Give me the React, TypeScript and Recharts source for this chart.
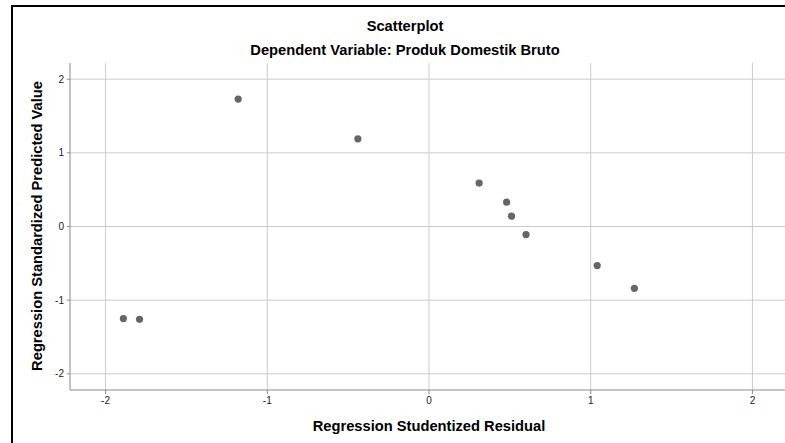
import { ScatterChart, Scatter, XAxis, YAxis, ReferenceLine } from 'recharts';

// Studentized residual (x) vs standardized predicted value (y)
const residuals = [-1.89, -1.79, -1.18, -0.44, 0.31, 0.48, 0.51, 0.6, 1.04, 1.27];
const predicted = [-1.25, -1.26, 1.73, 1.19, 0.59, 0.33, 0.14, -0.11, -0.53, -0.84];
const axisTicks = [-2, -1, 0, 1, 2];

const TITLE = 'Scatterplot';
const SUBTITLE = 'Dependent Variable: Produk Domestik Bruto';
const X_LABEL = 'Regression Studentized Residual';
const Y_LABEL = 'Regression Standardized Predicted Value';

const FONT = '"Liberation Sans", Arial, sans-serif';
const AXIS_COLOR = '#8a8a8a';
const GRID_COLOR = '#cccccc';
const POINT_COLOR = '#666666';

const points = residuals.map((x, i) => ({ x, y: predicted[i] }));

const Dot = (props: any) => {
  const { cx, cy } = props;
  if (cx == null || cy == null) return null;
  return <circle cx={cx} cy={cy} r={3.6} fill={POINT_COLOR} />;
};

const tick = { fill: '#222', fontSize: 10, fontFamily: FONT };

const titleStyle: React.CSSProperties = {
  position: 'absolute',
  left: 11,
  width: 788,
  textAlign: 'center',
  fontFamily: FONT,
  fontWeight: 700,
  fontSize: 14.7,
  lineHeight: '16px',
  color: '#000',
  whiteSpace: 'nowrap',
};

export default function App() {
  return (
    <div style={{ position: 'absolute', left: 0, top: 0, width: 785, height: 443, overflow: 'hidden', background: '#fff' }}>
      <div style={{ position: 'absolute', left: 11, top: 5, width: 790, height: 500, border: '2px solid #000', boxSizing: 'border-box' }} />
      <div style={{ ...titleStyle, top: 18 }}>{TITLE}</div>
      <div style={{ ...titleStyle, top: 42 }}>{SUBTITLE}</div>
      <div style={{ position: 'absolute', left: 0, top: 0 }}>
        <ScatterChart width={790} height={443} margin={{ top: 63, right: 2, bottom: 23, left: 0 }}>
          <XAxis
            type="number"
            dataKey="x"
            domain={[-2.22, 2.22]}
            ticks={axisTicks}
            allowDataOverflow
            height={30}
            stroke={AXIS_COLOR}
            tickSize={4}
            tickMargin={3}
            tick={tick}
          />
          <YAxis
            type="number"
            dataKey="y"
            domain={[-2.22, 2.22]}
            ticks={axisTicks}
            allowDataOverflow
            width={70}
            stroke={AXIS_COLOR}
            tickSize={3}
            tickMargin={3}
            tick={tick}
          />
          {/* grid only at the tick values, nothing on the plot edges */}
          {axisTicks.map((t) => (
            <ReferenceLine key={`v${t}`} x={t} stroke={GRID_COLOR} />
          ))}
          {axisTicks.map((t) => (
            <ReferenceLine key={`h${t}`} y={t} stroke={GRID_COLOR} />
          ))}
          <Scatter data={points} shape={<Dot />} isAnimationActive={false} />
        </ScatterChart>
      </div>
      <div style={{ ...titleStyle, left: 70, width: 718, top: 418 }}>{X_LABEL}</div>
      <div
        style={{
          position: 'absolute',
          left: 37,
          top: 226,
          transform: 'translate(-50%, -50%) rotate(-90deg)',
          fontFamily: FONT,
          fontWeight: 700,
          fontSize: 14.7,
          lineHeight: '16px',
          whiteSpace: 'nowrap',
        }}
      >
        {Y_LABEL}
      </div>
    </div>
  );
}
